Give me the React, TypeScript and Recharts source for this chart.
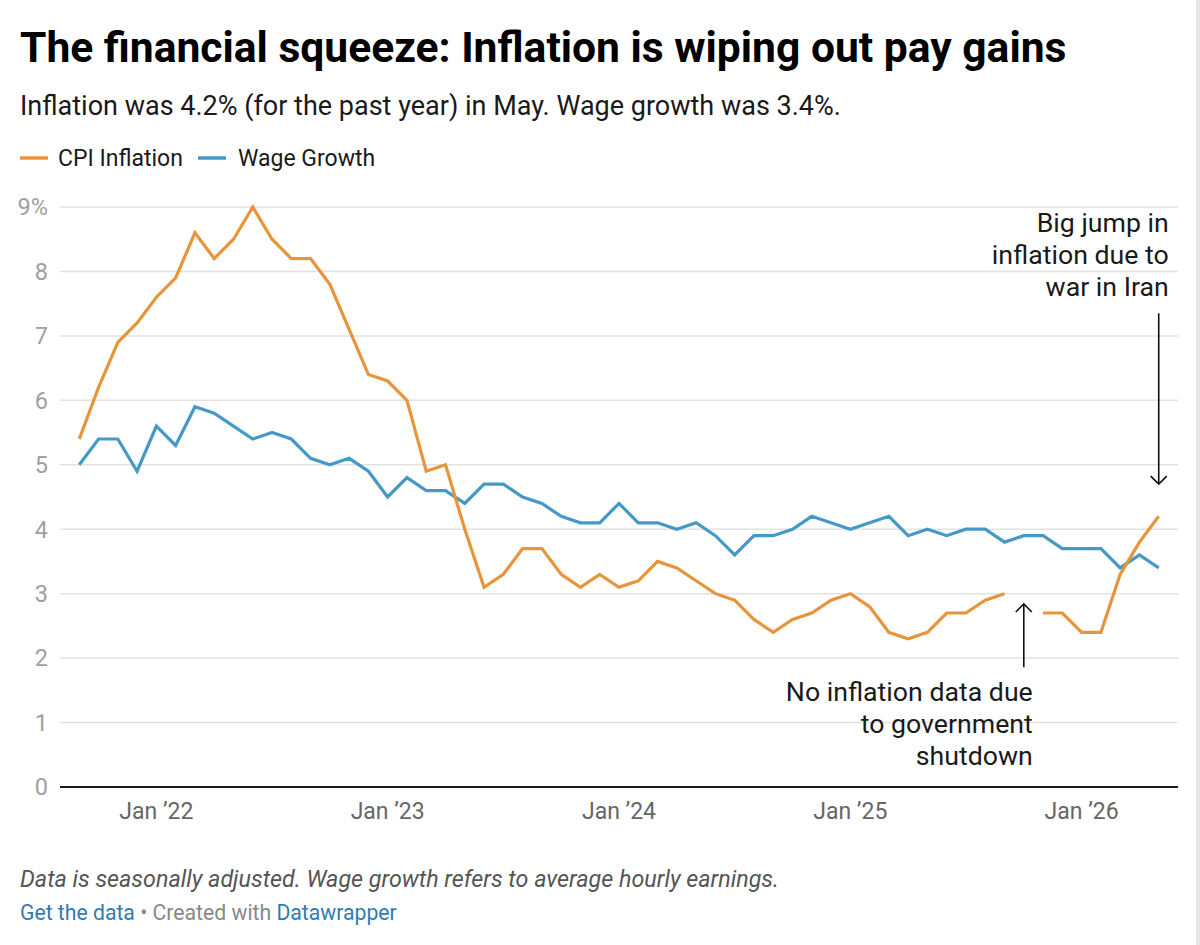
import React from "react";
import { LineChart, Line, XAxis, YAxis, CartesianGrid, ReferenceLine } from "recharts";

// Monthly values, Sep 2021 (index 0) through May 2026 (index 56)
const cpiInflation: (number | null)[] = [
  5.4, 6.2, 6.9, 7.2,
  7.6, 7.9, 8.6, 8.2, 8.5, 9.0, 8.5, 8.2, 8.2, 7.8, 7.1, 6.4,
  6.3, 6.0, 4.9, 5.0, 4.0, 3.1, 3.3, 3.7, 3.7, 3.3, 3.1, 3.3,
  3.1, 3.2, 3.5, 3.4, 3.2, 3.0, 2.9, 2.6, 2.4, 2.6, 2.7, 2.9,
  3.0, 2.8, 2.4, 2.3, 2.4, 2.7, 2.7, 2.9, 3.0, null, 2.7, 2.7,
  2.4, 2.4, 3.3, 3.8, 4.2,
];
const wageGrowth: number[] = [
  5.0, 5.4, 5.4, 4.9,
  5.6, 5.3, 5.9, 5.8, 5.6, 5.4, 5.5, 5.4, 5.1, 5.0, 5.1, 4.9,
  4.5, 4.8, 4.6, 4.6, 4.4, 4.7, 4.7, 4.5, 4.4, 4.2, 4.1, 4.1,
  4.4, 4.1, 4.1, 4.0, 4.1, 3.9, 3.6, 3.9, 3.9, 4.0, 4.2, 4.1,
  4.0, 4.1, 4.2, 3.9, 4.0, 3.9, 4.0, 4.0, 3.8, 3.9, 3.9, 3.7,
  3.7, 3.7, 3.4, 3.6, 3.4,
];
const xTickIndex = [4, 16, 28, 40, 52];
const xTickLabels = ["Jan \u201922", "Jan \u201923", "Jan \u201924", "Jan \u201925", "Jan \u201926"];
const yTicks = [0, 1, 2, 3, 4, 5, 6, 7, 8, 9];

const seriesNames = ["CPI Inflation", "Wage Growth"];
const annotationWar = ["Big jump in", "inflation due to", "war in Iran"];
const annotationShutdown = ["No inflation data due", "to government", "shutdown"];
const warArrow = { i: 56, from: 7.35, to: 4.7 };
const shutdownArrow = { i: 49, from: 1.86, to: 2.84 };

const data = cpiInflation.map((v, i) => ({ i, cpi: v, wage: wageGrowth[i] }));

const ORANGE = "#e8943a";
const BLUE = "#4599c6";
const FONT = "Roboto, 'Noto Sans', sans-serif";

function WarArrow(props: any) {
  const { x1, y1, x2, y2 } = props;
  const h = 8;
  return (
    <g>
      <line x1={x1} y1={y1} x2={x2} y2={y2} stroke="#111" strokeWidth={1.6} />
      <polyline points={`${x2 - h},${y2 - h} ${x2},${y2} ${x2 + h},${y2 - h}`} fill="none" stroke="#111" strokeWidth={1.6} />
      {annotationWar.map((t, k) => (
        <text key={k} x={x1 + 10} y={y1 - 81 + k * 32} textAnchor="end" fontFamily={FONT} fontSize={26.7} fill="#1a1a1a">
          {t}
        </text>
      ))}
    </g>
  );
}

function ShutdownArrow(props: any) {
  const { x1, y1, x2, y2 } = props;
  const h = 8;
  return (
    <g>
      <line x1={x1} y1={y1} x2={x2} y2={y2} stroke="#111" strokeWidth={1.6} />
      <polyline points={`${x2 - h},${y2 + h} ${x2},${y2} ${x2 + h},${y2 + h}`} fill="none" stroke="#111" strokeWidth={1.6} />
      {annotationShutdown.map((t, k) => (
        <text key={k} x={x1 + 9} y={y1 + 34 + k * 32} textAnchor="end" fontFamily={FONT} fontSize={26.7} fill="#1a1a1a">
          {t}
        </text>
      ))}
    </g>
  );
}

export default function App() {
  return (
    <div style={{ position: "absolute", left: 0, top: 0, width: 1200, height: 945, background: "#fff", overflow: "hidden" }}>
      <LineChart
        width={1200}
        height={945}
        data={data}
        margin={{ top: 207, right: 22, bottom: 118, left: 0 }}
      >
        <CartesianGrid vertical={false} stroke="#e2e2e2" strokeWidth={1.5} />
        <XAxis
          dataKey="i"
          type="number"
          domain={[-1, 57]}
          ticks={xTickIndex}
          tickFormatter={(v: number) => xTickLabels[xTickIndex.indexOf(v)] ?? ""}
          axisLine={{ stroke: "#1a1a1a", strokeWidth: 2 }}
          tickLine={false}
          tickMargin={10}
          height={40}
          tick={{ fill: "#666", fontSize: 23, fontFamily: FONT }}
          allowDataOverflow
        />
        <YAxis
          domain={[0, 9]}
          ticks={yTicks}
          tickFormatter={(v: number) => (v === 9 ? "9%" : String(v))}
          axisLine={false}
          tickLine={false}
          width={60}
          tickMargin={6}
          tick={{ fill: "#a0a0a0", fontSize: 23.5, fontFamily: FONT }}
        />
        <ReferenceLine
          segment={[{ x: warArrow.i, y: warArrow.from }, { x: warArrow.i, y: warArrow.to }]}
          shape={WarArrow}
        />
        <ReferenceLine
          segment={[{ x: shutdownArrow.i, y: shutdownArrow.from }, { x: shutdownArrow.i, y: shutdownArrow.to }]}
          shape={ShutdownArrow}
        />
        <Line
          dataKey="wage"
          name={seriesNames[1]}
          stroke={BLUE}
          strokeWidth={3.2}
          dot={false}
          type="linear"
          isAnimationActive={false}
        />
        <Line
          dataKey="cpi"
          name={seriesNames[0]}
          stroke={ORANGE}
          strokeWidth={3.2}
          dot={false}
          type="linear"
          connectNulls={false}
          isAnimationActive={false}
        />
      </LineChart>
      <svg width={1200} height={945} style={{ position: "absolute", left: 0, top: 0, pointerEvents: "none" }}>
        <text x={20} y={62} fontFamily={FONT} fontWeight={700} fontSize={42.6} fill="#000">
          The financial squeeze: Inflation is wiping out pay gains
        </text>
        <text x={20} y={115} fontFamily={FONT} fontSize={27} fill="#1a1a1a">
          Inflation was 4.2% (for the past year) in May. Wage growth was 3.4%.
        </text>
        <line x1={20} y1={158} x2={48} y2={158} stroke={ORANGE} strokeWidth={3.5} />
        <text x={58} y={166} fontFamily={FONT} fontSize={23} fill="#1a1a1a">{seriesNames[0]}</text>
        <line x1={198} y1={158} x2={226} y2={158} stroke={BLUE} strokeWidth={3.5} />
        <text x={238} y={166} fontFamily={FONT} fontSize={23} fill="#1a1a1a">{seriesNames[1]}</text>
        <text x={20} y={887} fontFamily={FONT} fontStyle="italic" fontSize={23.3} fill="#555">
          Data is seasonally adjusted. Wage growth refers to average hourly earnings.
        </text>
        <text x={20} y={920} fontFamily={FONT} fontSize={21.2}>
          <tspan fill="#2f7bb5">Get the data</tspan>
          <tspan fill="#888"> • Created with </tspan>
          <tspan fill="#2f7bb5">Datawrapper</tspan>
        </text>
        <rect x={1196} y={0} width={4} height={945} fill="#e6e6e6" />
      </svg>
    </div>
  );
}
